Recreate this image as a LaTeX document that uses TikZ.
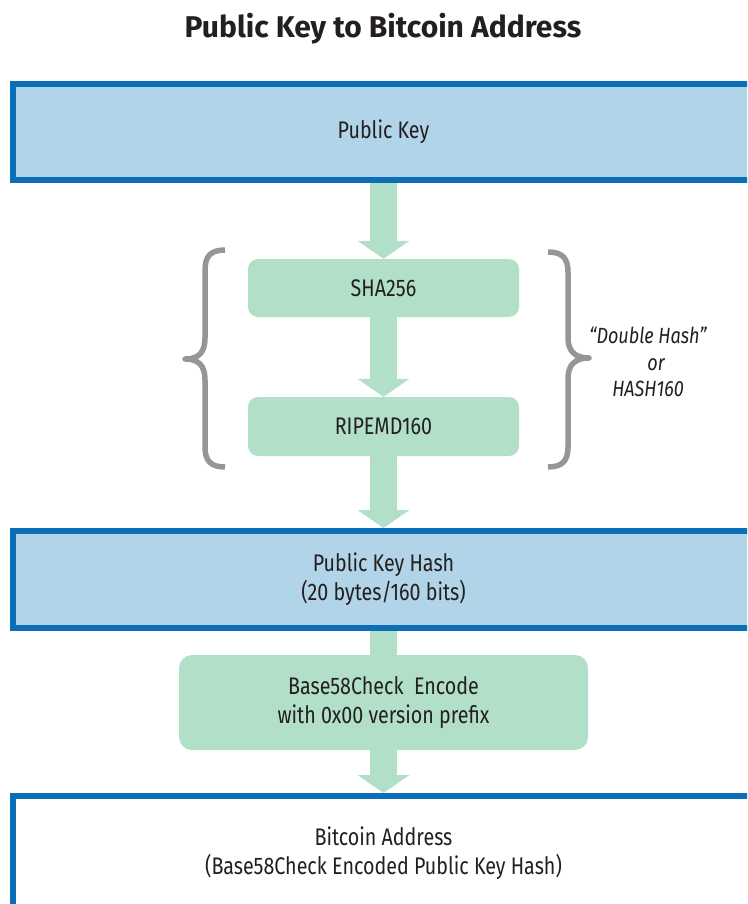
\documentclass[tikz,border=0pt]{standalone}
\usepackage{fontspec}
\setmainfont{Fira Sans}[FakeStretch=0.82]
\newfontfamily\titlefont{Fira Sans}
\usetikzlibrary{arrows.meta,backgrounds}
\definecolor{keyblue}{RGB}{11,111,184}
\definecolor{keyfill}{RGB}{177,212,233}
\definecolor{hashgreen}{RGB}{178,223,200}
\definecolor{bracegray}{RGB}{150,150,150}
\definecolor{inkgray}{RGB}{35,31,32}
\begin{document}
\begin{tikzpicture}[x=1pt,y=-1pt,
  every node/.style={text=inkgray,inner sep=0pt,font=\fontsize{24}{29}\selectfont},
  keybox/.style={draw=keyblue,line width=6pt,fill=keyfill,minimum width=741pt,align=center},
  hashbox/.style={fill=hashgreen,rounded corners=10pt,minimum width=271pt,minimum height=58pt,align=center},
  flow/.style={draw=hashgreen,line width=27pt,-{Triangle[length=18pt,width=52pt,line width=0pt]}},
  flowbar/.style={draw=hashgreen,line width=27pt},
  brace/.style={draw=bracegray,line width=5.5pt,line join=round}]
\useasboundingbox(0,0) rectangle (747,904);
\clip(0,0) rectangle (747,904);
\node[anchor=base,font=\titlefont\fontsize{30}{36}\selectfont\bfseries](title) at (383,38){Public Key to Bitcoin Address};
\node[keybox,minimum height=96pt](pk) at (383.5,132){Public Key};
\node[hashbox](sha) at (383.5,288){SHA256};
\node[hashbox,minimum height=59pt](ripe) at (383.5,426.5){RIPEMD160};
\node[keybox,minimum height=97pt](hash) at (383.5,579.5){Public Key Hash\\(20 bytes/160 bits)};
\node[hashbox,rounded corners=13pt,minimum width=409pt,minimum height=95pt](enc) at (383.5,702.5){Base58Check\ \ Encode\\with 0x00 version prefix};
\node[keybox,fill=white,minimum height=114pt](addr) at (383.5,853){Bitcoin Address\\(Base58Check Encoded Public Key Hash)};
\node[align=center,font=\fontsize{22}{26.5}\selectfont\itshape](note) at (648,362){``Double Hash''\\\hspace*{16pt}or\\HASH160};
% braces round the double hash
\draw[brace](225,250) .. controls (211,250) and (205,256) .. (205,270) -- (205,338) .. controls (205,352) and (199,359) .. (185,359) .. controls (199,359) and (205,366) .. (205,380) -- (205,447) .. controls (205,461) and (211,467) .. (225,467);
\draw[brace](548,252) .. controls (562,252) and (568,258) .. (568,272) -- (568,338) .. controls (568,351) and (575,358) .. (589,358) .. controls (575,358) and (568,365) .. (568,378) -- (568,447) .. controls (568,461) and (562,467) .. (548,467);
\begin{scope}[on background layer]
\draw[flow](pk.south) -- (sha.north);
\draw[flow](sha.south) -- (ripe.north);
\draw[flow](ripe.south) -- (hash.north);
\draw[flowbar](hash.south) -- (enc.north);
\draw[flow](enc.south) -- (addr.north);
\end{scope}
\end{tikzpicture}
\end{document}
